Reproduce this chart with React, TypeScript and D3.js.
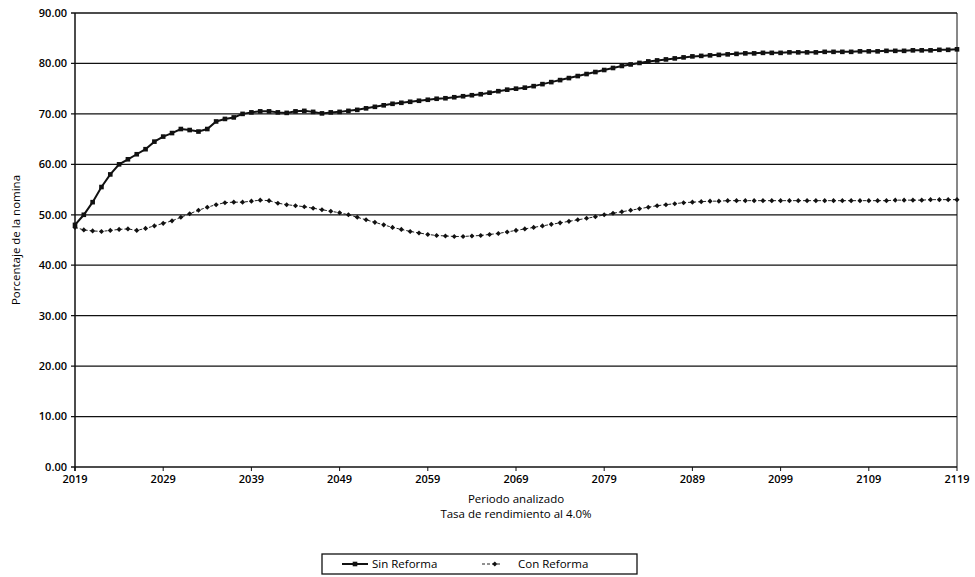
import * as d3 from "d3";
import React from "react";

const startYear = 2019;
const sinReforma = [
  48, 50, 52.5, 55.5, 58, 60, 61, 62, 63, 64.5, 65.5, 66.2, 67, 66.8, 66.5, 67, 68.5, 69, 69.3, 70, 70.3,
  70.5, 70.5, 70.3, 70.2, 70.5, 70.6, 70.4, 70.1, 70.3, 70.4, 70.6, 70.8, 71.1, 71.4, 71.7, 72, 72.2, 72.4, 72.6,
  72.8, 73, 73.1, 73.3, 73.5, 73.7, 73.9, 74.2, 74.5, 74.8, 75, 75.2, 75.5, 75.9, 76.3, 76.7, 77.1, 77.5, 77.9, 78.3,
  78.7, 79.1, 79.5, 79.8, 80.1, 80.4, 80.6, 80.8, 81, 81.2, 81.4, 81.5, 81.6, 81.7, 81.8, 81.9, 82, 82, 82.1, 82.1,
  82.1, 82.2, 82.2, 82.2, 82.2, 82.3, 82.3, 82.3, 82.3, 82.4, 82.4, 82.4, 82.5, 82.5, 82.5, 82.6, 82.6, 82.6, 82.7, 82.7, 82.8,
];
const conReforma = [
  47.5, 47, 46.8, 46.7, 46.9, 47.1, 47.2, 46.9, 47.3, 47.8, 48.3, 48.8, 49.5, 50.2, 50.9, 51.5, 52, 52.4, 52.5, 52.5, 52.7,
  52.9, 52.8, 52.3, 52, 51.8, 51.6, 51.3, 51, 50.7, 50.4, 50, 49.5, 49, 48.5, 48, 47.5, 47.1, 46.7, 46.4,
  46.1, 45.9, 45.8, 45.7, 45.7, 45.8, 45.9, 46.1, 46.3, 46.6, 46.9, 47.2, 47.5, 47.8, 48.1, 48.4, 48.7, 49, 49.3, 49.6,
  50, 50.3, 50.6, 50.9, 51.2, 51.5, 51.8, 52, 52.2, 52.4, 52.5, 52.6, 52.7, 52.7, 52.8, 52.8, 52.8, 52.8, 52.8, 52.8,
  52.8, 52.8, 52.8, 52.8, 52.8, 52.8, 52.8, 52.8, 52.8, 52.8, 52.8, 52.8, 52.8, 52.9, 52.9, 52.9, 52.9, 53, 53, 53, 53,
];
const yTicks = [0, 10, 20, 30, 40, 50, 60, 70, 80, 90];
const xTicks = [2019, 2029, 2039, 2049, 2059, 2069, 2079, 2089, 2099, 2109, 2119];

const W = 975;
const H = 577;
const m = { left: 75, right: 18, top: 13, bottom: 110 };
const font = "'Open Sans', 'DejaVu Sans', sans-serif";

export default function App() {
  const x = d3.scaleLinear().domain([2019, 2119]).range([m.left, W - m.right]);
  const y = d3.scaleLinear().domain([0, 90]).range([H - m.bottom, m.top]);
  const pts = (arr: number[]) => arr.map((v, i) => [x(startYear + i), y(v)] as [number, number]);
  const lineGen = d3.line();
  const sin = pts(sinReforma);
  const con = pts(conReforma);
  const bottom = H - m.bottom;

  return (
    <svg width={W} height={H} style={{ position: "absolute", left: 0, top: 0, background: "#fff" }} fontFamily={font}>
      {yTicks.map((t) => (
        <g key={t}>
          <line x1={m.left - 4} x2={W - m.right} y1={y(t)} y2={y(t)} stroke="#111" strokeWidth={1.3} />
          <text x={m.left - 8} y={y(t)} dy="0.35em" textAnchor="end" fontSize={11} fontWeight={600}>
            {t.toFixed(2)}
          </text>
        </g>
      ))}
      <line x1={m.left} x2={m.left} y1={m.top} y2={bottom + 4} stroke="#111" strokeWidth={1.5} />
      <line x1={W - m.right} x2={W - m.right} y1={m.top} y2={bottom} stroke="#111" strokeWidth={1} />
      {xTicks.map((t) => (
        <g key={t}>
          <line x1={x(t)} x2={x(t)} y1={bottom} y2={bottom + 4} stroke="#111" />
          <text x={x(t)} y={bottom + 16} textAnchor="middle" fontSize={11} fontWeight={600}>
            {t}
          </text>
        </g>
      ))}
      <text x={(m.left + W - m.right) / 2} y={bottom + 36} textAnchor="middle" fontSize={11.5}>
        Periodo analizado
      </text>
      <text x={(m.left + W - m.right) / 2} y={bottom + 51} textAnchor="middle" fontSize={11.5}>
        Tasa de rendimiento al 4.0%
      </text>
      <text
        transform={`translate(20,${(m.top + bottom) / 2}) rotate(-90)`}
        textAnchor="middle"
        fontSize={11.5}
      >
        Porcentaje de la nomina
      </text>
      <path d={lineGen(con) ?? ""} fill="none" stroke="#222" strokeWidth={1} strokeDasharray="3,2" />
      {con.map(([cx, cy], i) => (
        <rect key={i} x={cx - 1.8} y={cy - 1.8} width={3.6} height={3.6} fill="#111" transform={`rotate(45 ${cx} ${cy})`} />
      ))}
      <path d={lineGen(sin) ?? ""} fill="none" stroke="#111" strokeWidth={2} />
      {sin.map(([cx, cy], i) => (
        <rect key={i} x={cx - 2.3} y={cy - 2.3} width={4.6} height={4.6} fill="#111" />
      ))}
      <g transform="translate(322,554)">
        <rect x={0} y={0} width={315} height={20} fill="#fff" stroke="#111" strokeWidth={1.3} />
        <line x1={20} x2={46} y1={10} y2={10} stroke="#111" strokeWidth={2} />
        <rect x={30.7} y={7.7} width={4.6} height={4.6} fill="#111" />
        <text x={50} y={14} fontSize={11.5}>Sin Reforma</text>
        <line x1={160} x2={180} y1={10} y2={10} stroke="#222" strokeDasharray="3,2" />
        <rect x={171} y={8.2} width={3.6} height={3.6} fill="#111" transform="rotate(45 172.8 10)" />
        <text x={196} y={14} fontSize={11.5}>Con Reforma</text>
      </g>
    </svg>
  );
}
